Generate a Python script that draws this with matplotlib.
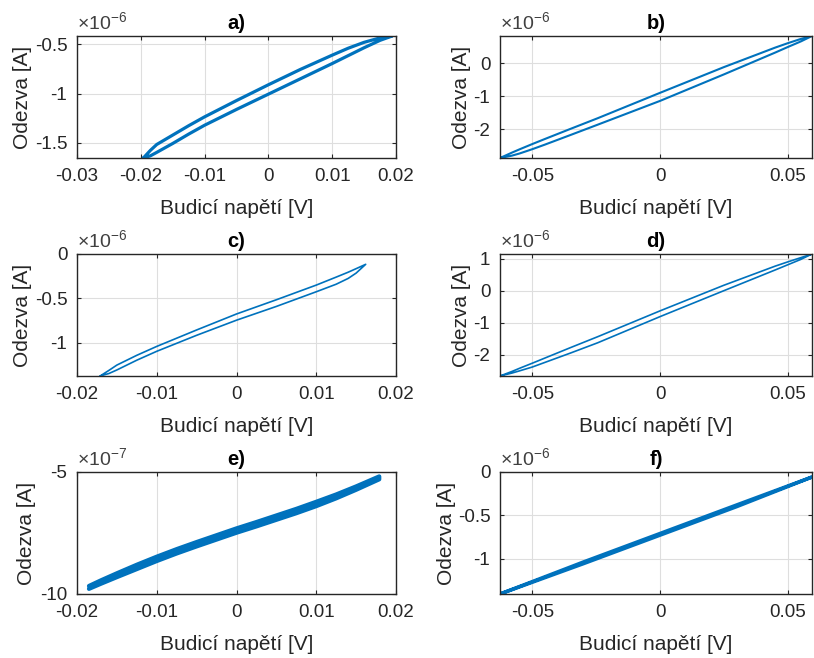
import matplotlib.pyplot as plt
from matplotlib.ticker import FuncFormatter
import numpy as np

plt.rcParams['font.family'] = ['Liberation Sans', 'DejaVu Sans']
plt.rcParams['axes.unicode_minus'] = False
plt.rcParams['mathtext.fontset'] = 'custom'
plt.rcParams['mathtext.rm'] = 'Liberation Sans'

# values; x in V, y in units of the exponent of each panel
xa = [-0.0196, -0.0185, -0.0175, -0.015, -0.0125, -0.01, -0.005, 0, 0.005, 0.01, 0.0125, 0.015, 0.0175, 0.0194]
up_a = [-1.652, -1.575, -1.515, -1.42, -1.325, -1.235, -1.07, -0.91, -0.755, -0.61, -0.54, -0.48, -0.435, -0.416]
lo_a = [-1.652, -1.63, -1.595, -1.505, -1.41, -1.32, -1.16, -1.005, -0.85, -0.695, -0.615, -0.535, -0.46, -0.416]

xb = [-0.0626, -0.058, -0.055, -0.05, -0.045, -0.035, -0.0244, 0, 0.0249, 0.045, 0.05, 0.055, 0.0594]
up_b = [-2.86, -2.70, -2.60, -2.44, -2.285, -1.98, -1.66, -0.893, -0.12, 0.47, 0.605, 0.73, 0.82]
lo_b = [-2.86, -2.79, -2.725, -2.595, -2.455, -2.165, -1.855, -1.137, -0.34, 0.32, 0.49, 0.655, 0.82]

xc = [-0.0171, -0.016, -0.015, -0.0125, -0.01, -0.005, 0, 0.005, 0.01, 0.0125, 0.014, 0.015, 0.0162]
up_c = [-1.373, -1.31, -1.25, -1.14, -1.04, -0.855, -0.675, -0.515, -0.35, -0.26, -0.205, -0.165, -0.116]
lo_c = [-1.373, -1.345, -1.305, -1.195, -1.095, -0.915, -0.745, -0.59, -0.425, -0.34, -0.275, -0.215, -0.116]

xd = [-0.0626, -0.058, -0.055, -0.05, -0.035, -0.0244, 0, 0.0249, 0.045, 0.05, 0.055, 0.0594]
up_d = [-2.67, -2.53, -2.43, -2.27, -1.78, -1.44, -0.63, 0.17, 0.77, 0.905, 1.035, 1.15]
lo_d = [-2.67, -2.58, -2.51, -2.39, -1.95, -1.63, -0.81, 0.0, 0.65, 0.815, 0.98, 1.15]

xe = [-0.0185, -0.017, -0.015, -0.0125, -0.01, -0.0075, -0.005, -0.0025, 0, 0.0025, 0.005, 0.0075, 0.01, 0.0125, 0.015, 0.0179]
up_e = [-9.67, -9.44, -9.15, -8.80, -8.47, -8.16, -7.87, -7.59, -7.31, -7.05, -6.78, -6.51, -6.22, -5.92, -5.59, -5.18]
lo_e = [-9.79, -9.58, -9.31, -8.98, -8.65, -8.34, -8.05, -7.77, -7.49, -7.23, -6.96, -6.69, -6.40, -6.08, -5.73, -5.30]

xf = [-0.0626, -0.03, 0, 0.03, 0.0594]
up_f = [-1.41, -1.04, -0.71, -0.38, -0.058]
lo_f = [-1.41, -1.06, -0.73, -0.40, -0.058]

titles = ['a)', 'b)', 'c)', 'd)', 'e)', 'f)']
exps = ['-6', '-6', '-6', '-6', '-7', '-6']

xl_left = [(-0.03, 0.02), (-0.02, 0.02), (-0.02, 0.02)]
xt_left = [[-0.03, -0.02, -0.01, 0, 0.01, 0.02], [-0.02, -0.01, 0, 0.01, 0.02], [-0.02, -0.01, 0, 0.01, 0.02]]
xl_right = (-0.0626, 0.0594)
xt_right = [-0.05, 0, 0.05]

panels = [
    (xa, up_a, lo_a, xl_left[0], xt_left[0], (-1.652, -0.416), [-1.5, -1, -0.5], 2.3),
    (xb, up_b, lo_b, xl_right, xt_right, (-2.86, 0.82), [-2, -1, 0], 1.5),
    (xc, up_c, lo_c, xl_left[1], xt_left[1], (-1.373, 0), [-1, -0.5, 0], 1.2),
    (xd, up_d, lo_d, xl_right, xt_right, (-2.67, 1.15), [-2, -1, 0, 1], 1.2),
    (xe, up_e, lo_e, xl_left[2], xt_left[2], (-10, -5), [-10, -5], 3.0),
    (xf, up_f, lo_f, xl_right, xt_right, (-1.41, 0), [-1, -0.5, 0], 2.5),
]

W, H = 814, 658
lefts = [77, 500]
widths = [319, 312]
bottoms = [158, 376, 594]
hgt = 122
# distance of the y label from the left spine, in pixels
ylab_off = [45, 29, 45, 29, 41, 44]
fmt = FuncFormatter(lambda v, p: '%g' % v)
dark = '#262626'

fig = plt.figure(figsize=(W / 100, H / 100), dpi=100)

for i, (x, up, lo, xlim, xt, ylim, yt, lw) in enumerate(panels):
    col = i % 2
    row = i // 2
    ax = fig.add_axes([lefts[col] / W, 1 - bottoms[row] / H, widths[col] / W, hgt / H])
    ax.plot(np.r_[x, x[::-1]], np.r_[up, lo[::-1]], color='#0072BD', lw=lw,
            solid_joinstyle='round', solid_capstyle='round')
    ax.set_xlim(xlim)
    ax.set_ylim(ylim)
    ax.set_xticks(xt)
    ax.set_yticks(yt)
    ax.xaxis.set_major_formatter(fmt)
    ax.yaxis.set_major_formatter(fmt)
    ax.grid(True, color='#dedede', lw=0.8)
    ax.set_axisbelow(True)
    ax.tick_params(direction='in', length=3, width=0.8, top=True, right=True,
                   labelsize=13.5, colors=dark, pad=7)
    for s in ax.spines.values():
        s.set_color(dark)
        s.set_linewidth(1.0)
    ax.set_title(titles[i], fontweight='bold', fontsize=14.5, pad=5)
    ax.set_xlabel('Budicí napětí [V]', fontsize=15, color=dark)
    ax.set_ylabel('Odezva [A]', fontsize=15, color=dark)
    ax.xaxis.set_label_coords(0.5, -0.34)
    ax.yaxis.set_label_coords(-ylab_off[i] / widths[col], 0.5)
    ax.text(0, 1.015, r'$\times10^{' + exps[i] + '}$', transform=ax.transAxes,
            fontsize=14, ha='left', va='bottom', color='#404040')

fig.savefig('out.png', dpi=100)
